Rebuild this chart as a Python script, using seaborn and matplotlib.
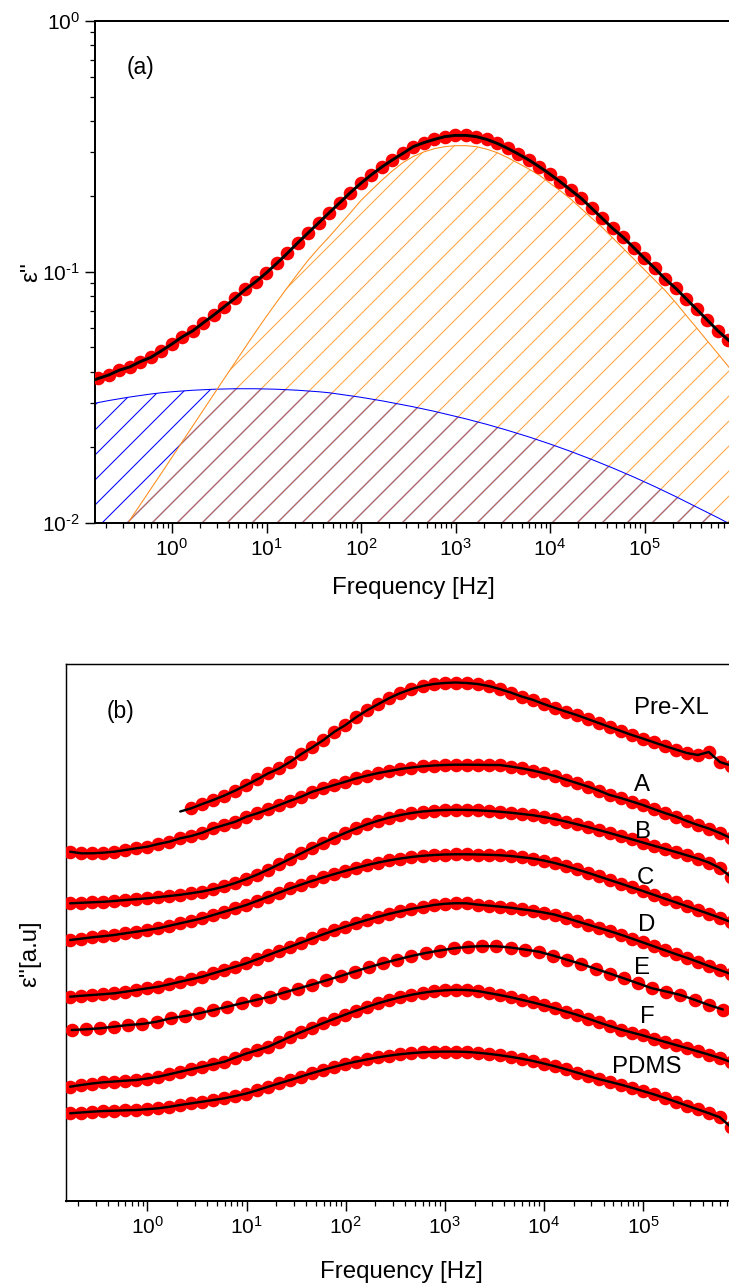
import numpy as np
import pandas as pd
import matplotlib
matplotlib.use("Agg")
import matplotlib.pyplot as plt
import matplotlib.ticker as mticker
import seaborn as sns

# ---------------- data ----------------
# log10 of frequency [Hz] for the measured points (9 points / decade)
log_freq = [-0.780, -0.669, -0.558, -0.447, -0.336, -0.224, -0.113, -0.002, 0.109, 0.220,
            0.331, 0.442, 0.553, 0.664, 0.776, 0.887, 0.998, 1.109, 1.220, 1.331,
            1.442, 1.553, 1.664, 1.776, 1.887, 1.998, 2.109, 2.220, 2.331, 2.442,
            2.553, 2.664, 2.776, 2.887, 2.998, 3.109, 3.220, 3.331, 3.442, 3.553,
            3.664, 3.776, 3.887, 3.998, 4.109, 4.220, 4.331, 4.442, 4.553, 4.664,
            4.776, 4.887, 4.998, 5.109, 5.220, 5.331, 5.442, 5.553, 5.664, 5.776,
            5.887]

# panel (a): log10 eps'' (measured), and the two fitted relaxation components
a_total_log = [-1.425, -1.411, -1.392, -1.379, -1.358, -1.341, -1.315, -1.288, -1.259, -1.235,
               -1.203, -1.172, -1.139, -1.106, -1.070, -1.039, -1.004, -0.966, -0.926, -0.884,
               -0.844, -0.804, -0.764, -0.724, -0.684, -0.647, -0.613, -0.582, -0.554, -0.528,
               -0.501, -0.485, -0.472, -0.461, -0.456, -0.456, -0.461, -0.472, -0.488, -0.508,
               -0.530, -0.554, -0.581, -0.610, -0.641, -0.674, -0.707, -0.747, -0.787, -0.827,
               -0.863, -0.904, -0.946, -0.986, -1.029, -1.066, -1.108, -1.150, -1.192, -1.235,
               -1.272]
a_slow_log = [-1.521, -1.513, -1.506, -1.499, -1.493, -1.487, -1.482, -1.478, -1.475, -1.472,
              -1.470, -1.468, -1.467, -1.466, -1.466, -1.466, -1.467, -1.468, -1.470, -1.472,
              -1.475, -1.478, -1.482, -1.488, -1.494, -1.500, -1.507, -1.514, -1.522, -1.530,
              -1.538, -1.547, -1.556, -1.566, -1.576, -1.586, -1.597, -1.608, -1.620, -1.632,
              -1.645, -1.658, -1.672, -1.686, -1.701, -1.716, -1.732, -1.748, -1.765, -1.782,
              -1.800, -1.818, -1.837, -1.856, -1.876, -1.896, -1.917, -1.938, -1.959, -1.980,
              -2.002]
a_main_log = [-2.180, -2.115, -2.052, -1.990, -1.928, -1.865, -1.803, -1.740, -1.677, -1.614,
              -1.551, -1.488, -1.425, -1.363, -1.300, -1.238, -1.178, -1.120, -1.063, -1.007,
              -0.953, -0.905, -0.860, -0.812, -0.765, -0.716, -0.675, -0.635, -0.598, -0.565,
              -0.540, -0.522, -0.509, -0.501, -0.497, -0.497, -0.501, -0.511, -0.525, -0.545,
              -0.567, -0.590, -0.615, -0.646, -0.677, -0.710, -0.748, -0.786, -0.823, -0.865,
              -0.907, -0.949, -0.991, -1.033, -1.075, -1.123, -1.174, -1.224, -1.275, -1.326,
              -1.377]
# fit values at the axis edges (log f = -0.815 and 5.95)
a_edge_logf = [-0.815, 5.95]
a_total_edge = [-1.430, -1.293]
a_slow_edge = [-1.524, -2.014]
a_main_edge = [-2.200, -1.406]

# panel (b): eps'' in arbitrary (offset) units
samples = ["Pre-XL", "A", "B", "C", "D", "E", "F", "PDMS"]
# Pre-XL: starts at the 11th frequency (first value = fit start only)
prexl = [389.5, 392.7, 397.0, 401.0, 405.5, 410.5, 416.0, 421.7, 427.7, 432.7,
         439.3, 447.0, 453.7, 461.0, 469.3, 476.0, 484.0, 491.0, 497.0, 503.0,
         508.0, 512.0, 515.0, 517.0, 518.0, 518.5, 518.0, 517.0, 515.0, 512.0,
         508.5, 504.5, 501.2, 497.0, 493.2, 489.5, 486.0, 482.0, 478.0, 474.0,
         470.0, 466.0, 462.5, 458.7, 455.0, 451.5, 448.0, 446.0, 449.0, 439.0,
         435.5]
samp_a = [349.3, 347.7, 347.7, 348.3, 349.3, 351.0, 352.7, 354.3, 357.0, 359.3,
          362.7, 365.0, 368.3, 372.7, 376.0, 379.3, 384.3, 387.7, 391.7, 396.0,
          400.3, 404.3, 409.3, 412.7, 416.0, 419.3, 422.7, 425.5, 428.0, 430.0,
          432.0, 433.5, 434.7, 435.5, 436.0, 436.3, 436.3, 436.2, 436.0, 436.0,
          434.5, 432.7, 430.5, 428.0, 425.0, 421.5, 418.0, 414.5, 410.5, 406.0,
          403.0, 399.5, 396.0, 392.0, 388.0, 384.5, 380.0, 376.0, 372.5, 368.0,
          363.0]
samp_b = [297.7, 298.2, 298.7, 299.2, 300.0, 301.0, 301.8, 302.7, 303.8, 305.0,
          306.2, 307.8, 309.5, 311.8, 314.6, 318.0, 322.0, 326.5, 331.5, 336.8,
          342.3, 347.8, 353.2, 358.4, 363.4, 368.2, 372.7, 376.8, 380.4, 383.5,
          386.0, 388.0, 389.5, 390.5, 391.0, 391.2, 391.1, 390.7, 390.1, 389.3,
          388.3, 387.1, 385.8, 384.1, 382.0, 379.5, 376.8, 374.0, 371.0, 368.0,
          364.8, 361.7, 358.5, 355.3, 352.2, 349.0, 345.7, 342.4, 338.5, 333.0,
          324.0]
samp_c = [261.0, 262.3, 263.7, 264.8, 266.0, 267.7, 269.3, 271.0, 272.7, 275.2,
          277.7, 280.2, 282.7, 286.0, 289.3, 292.7, 296.0, 300.2, 304.3, 308.5,
          312.7, 316.5, 320.2, 323.7, 327.0, 330.2, 333.2, 336.0, 338.5, 340.7,
          342.5, 344.0, 345.2, 346.0, 346.5, 346.7, 346.7, 346.5, 346.2, 345.8,
          345.0, 343.8, 342.5, 340.5, 338.0, 335.0, 331.7, 328.3, 324.7, 321.0,
          317.4, 313.7, 310.0, 306.2, 302.4, 298.6, 294.8, 291.0, 287.2, 283.2,
          279.0]
samp_d = [204.3, 205.2, 206.0, 206.8, 207.7, 209.3, 211.0, 212.7, 214.3, 216.7,
          219.3, 221.8, 224.3, 227.7, 231.0, 234.3, 237.7, 241.8, 246.0, 250.2,
          254.3, 258.5, 262.7, 266.8, 270.7, 274.4, 277.9, 281.2, 284.3, 287.2,
          289.8, 292.1, 294.0, 296.0, 297.2, 297.8, 297.7, 296.4, 295.4, 294.4,
          293.3, 291.8, 290.3, 288.5, 286.4, 283.2, 279.8, 276.5, 273.2, 269.9,
          266.3, 262.5, 258.6, 254.7, 250.8, 246.9, 243.2, 239.2, 235.0, 231.0,
          227.0]
# sample E was measured with 7 points / decade
log_freq_e = [-0.765, -0.622, -0.479, -0.336, -0.194, -0.051, 0.092, 0.235, 0.378, 0.521,
              0.664, 0.806, 0.949, 1.092, 1.235, 1.378, 1.521, 1.664, 1.806, 1.949,
              2.092, 2.235, 2.378, 2.521, 2.664, 2.806, 2.949, 3.092, 3.235, 3.378,
              3.521, 3.664, 3.806, 3.949, 4.092, 4.235, 4.378, 4.521, 4.664, 4.806,
              4.949, 5.092, 5.235, 5.378, 5.521, 5.664, 5.806]
samp_e = [171.0, 171.7, 172.7, 174.3, 176.0, 177.0, 179.3, 182.7, 185.0, 187.7,
          191.0, 194.3, 197.7, 201.0, 204.3, 208.5, 212.5, 216.5, 220.7, 225.0,
          229.5, 233.8, 237.8, 241.5, 245.0, 248.0, 250.5, 252.7, 254.2, 254.9,
          254.7, 253.5, 251.5, 249.3, 245.5, 241.2, 237.0, 232.2, 227.5, 222.7,
          217.7, 212.7, 209.5, 206.0, 201.2, 196.0, 191.5]
samp_f = [114.3, 116.0, 117.5, 118.7, 119.5, 120.3, 121.0, 122.5, 124.3, 126.7,
          129.3, 131.8, 134.3, 136.8, 139.3, 143.5, 147.5, 150.8, 154.3, 159.3,
          164.3, 169.0, 173.5, 178.0, 182.3, 186.5, 190.5, 194.3, 197.8, 201.0,
          203.8, 206.2, 208.2, 209.7, 210.7, 211.2, 211.0, 210.0, 208.0, 206.0,
          203.8, 201.2, 198.6, 195.8, 192.8, 189.5, 186.3, 182.5, 178.7, 175.0,
          171.5, 168.5, 165.6, 162.4, 159.2, 156.0, 152.9, 149.6, 146.4, 143.0,
          139.0]
samp_pdms = [87.7, 88.5, 89.3, 90.0, 90.3, 90.7, 91.0, 91.8, 92.7, 94.2,
             96.0, 97.7, 99.3, 101.0, 102.7, 105.0, 107.5, 110.8, 114.3, 117.7,
             121.0, 124.5, 128.0, 131.2, 134.2, 137.0, 139.5, 141.7, 143.7, 145.4,
             146.8, 147.9, 148.7, 149.2, 149.4, 149.4, 149.1, 148.3, 147.2, 145.8,
             144.2, 142.3, 140.1, 137.5, 134.8, 131.8, 128.5, 125.2, 122.0, 119.2,
             116.4, 113.3, 110.0, 106.7, 103.1, 99.3, 95.4, 91.6, 87.8, 83.7,
             74.0]

# label anchor positions for panel (b): (log10 f, a.u.)
label_pos = [(5.29, 492.7), (4.99, 416.0), (5.00, 369.3), (5.02, 322.7),
             (5.04, 276.0), (4.99, 232.7), (5.04, 184.3), (5.04, 134.3)]

# decade ticks shown on the frequency axis
freq_decades = [0, 1, 2, 3, 4, 5]
# decade ticks on the eps'' axis of panel (a)
eps_decades = [-2, -1, 0]

# ---------------- style ----------------
sns.set_style("ticks")
DPI = 75
plt.rcParams.update({
    "font.family": ["Liberation Sans", "DejaVu Sans"],
    "mathtext.fontset": "custom",
    "mathtext.rm": "Liberation Sans",
    "mathtext.it": "Liberation Sans:italic",
    "mathtext.bf": "Liberation Sans:bold",
    "mathtext.default": "regular",
    "axes.unicode_minus": False,
    "hatch.linewidth": 1.0,
    "axes.edgecolor": "black",
    "axes.linewidth": 1.9,
    "axes.labelcolor": "black",
    "text.color": "black",
    "xtick.color": "black",
    "ytick.color": "black",
    "xtick.labelcolor": "black",
    "ytick.labelcolor": "black",
})

RED = "#ff0000"
MS = 170          # marker area (pt^2)
TICK_FS = 20
LABEL_FS = 23


def dec_fmt(val, pos=None):
    e = int(round(np.log10(val)))
    if e < 0:
        return r"$10^{\text{-}%d}$" % (-e)
    return r"$10^{%d}$" % e


fig = plt.figure(figsize=(729 / DPI, 1285 / DPI), dpi=DPI)
fig.patch.set_facecolor("white")

# ---------------- panel (a) ----------------
axa = fig.add_axes([95 / 729, 1 - 522.7 / 1285, 1 - 95 / 729, (522.7 - 21) / 1285])
axa.set_xscale("log")
axa.set_yscale("log")

f = 10 ** np.array(log_freq)
f_fit = 10 ** np.array([a_edge_logf[0]] + log_freq + [a_edge_logf[1]])
tot_fit = 10 ** np.array([a_total_edge[0]] + a_total_log + [a_total_edge[1]])
slow_fit = 10 ** np.array([a_slow_edge[0]] + a_slow_log + [a_slow_edge[1]])
main_fit = 10 ** np.array([a_main_edge[0]] + a_main_log + [a_main_edge[1]])

axa.fill_between(f_fit, 1e-4, slow_fit, facecolor="none", edgecolor=(0, 0, 1, 1),
                 hatch="/", linewidth=0, zorder=1)
axa.fill_between(f_fit, 1e-4, main_fit, facecolor="none", edgecolor=(1.0, 0.55, 0.05, 0.78),
                 hatch="/", linewidth=0, zorder=1.5)
sns.lineplot(x=f_fit, y=slow_fit, color="#0000ff", linewidth=1.0, ax=axa,
             estimator=None, sort=False, legend=False, zorder=2)
sns.lineplot(x=f_fit, y=main_fit, color="#ff8c1a", linewidth=1.0, ax=axa,
             estimator=None, sort=False, legend=False, zorder=2)
sns.scatterplot(x=f, y=10 ** np.array(a_total_log), color=RED, s=MS, linewidth=0,
                ax=axa, legend=False, zorder=3)
sns.lineplot(x=f_fit, y=tot_fit, color="black", linewidth=2.8, ax=axa,
             estimator=None, sort=False, legend=False, zorder=4)

axa.set_xlim(10 ** -0.815, 10 ** 5.894)
axa.set_ylim(1e-2, 1.0)
axa.xaxis.set_major_locator(mticker.FixedLocator([10.0 ** d for d in freq_decades]))
axa.xaxis.set_minor_locator(mticker.LogLocator(base=10, subs=np.arange(2, 10), numticks=30))
axa.xaxis.set_major_formatter(mticker.FuncFormatter(dec_fmt))
axa.xaxis.set_minor_formatter(mticker.NullFormatter())
axa.yaxis.set_major_locator(mticker.FixedLocator([10.0 ** d for d in eps_decades]))
axa.yaxis.set_minor_locator(mticker.LogLocator(base=10, subs=np.arange(2, 10), numticks=30))
axa.yaxis.set_major_formatter(mticker.FuncFormatter(dec_fmt))
axa.yaxis.set_minor_formatter(mticker.NullFormatter())
axa.spines["right"].set_visible(False)
axa.tick_params(axis="both", which="major", direction="out", length=9.5, width=1.4,
                labelsize=TICK_FS, pad=5, colors="black")
axa.tick_params(axis="both", which="minor", direction="out", length=4.8, width=1.2,
                colors="black")
axa.set_xlabel("Frequency [Hz]", fontsize=LABEL_FS, color="black")
axa.xaxis.set_label_coords(0.502, -0.130)
axa.xaxis.label.set_va("center")
axa.set_ylabel("ε''", fontsize=LABEL_FS, color="black")
axa.yaxis.set_label_coords(-0.100, 0.50)
axa.yaxis.label.set_va("center")
axa.text(0.071, 0.908, "(a)", transform=axa.transAxes, fontsize=22,
         ha="center", va="center", color="black")

# ---------------- panel (b) ----------------
axb = fig.add_axes([65.5 / 729, 1 - 1201 / 1285, 1 - 65.5 / 729, (1201 - 664) / 1285])
axb.set_xscale("log")

series_b = [
    (log_freq[10:], prexl, 1),
    (log_freq, samp_a, 0),
    (log_freq, samp_b, 0),
    (log_freq, samp_c, 0),
    (log_freq, samp_d, 0),
    (log_freq_e, samp_e, 0),
    (log_freq, samp_f, 0),
    (log_freq, samp_pdms, 0),
]
for (lx, vals, skip), name, (tx, ty) in zip(series_b, samples, label_pos):
    xx = 10 ** np.array(lx)
    yy = np.array(vals)
    sns.scatterplot(x=xx[skip:], y=yy[skip:], color=RED, s=MS, linewidth=0,
                    ax=axb, legend=False, zorder=3)
    sns.lineplot(x=xx, y=yy, color="black", linewidth=2.3, ax=axb,
                 estimator=None, sort=False, legend=False, zorder=4)
    axb.text(10 ** tx, ty, name, fontsize=LABEL_FS, ha="center", va="center",
             zorder=5, color="black")

axb.set_xlim(10 ** -0.827, 10 ** 5.868)
axb.set_ylim(0, 537)
axb.set_yticks([])
axb.xaxis.set_major_locator(mticker.FixedLocator([10.0 ** d for d in freq_decades]))
axb.xaxis.set_minor_locator(mticker.LogLocator(base=10, subs=np.arange(2, 10), numticks=30))
axb.xaxis.set_major_formatter(mticker.FuncFormatter(dec_fmt))
axb.xaxis.set_minor_formatter(mticker.NullFormatter())
axb.spines["right"].set_visible(False)
axb.spines["left"].set_linewidth(1.4)
axb.spines["top"].set_linewidth(1.4)
axb.tick_params(axis="x", which="major", direction="out", length=9.5, width=1.4,
                labelsize=TICK_FS, pad=5, colors="black")
axb.tick_params(axis="x", which="minor", direction="out", length=4.8, width=1.2,
                colors="black")
axb.set_xlabel("Frequency [Hz]", fontsize=LABEL_FS, color="black")
axb.xaxis.set_label_coords(0.506, -0.132)
axb.xaxis.label.set_va("center")
axb.set_ylabel("ε''[a.u]", fontsize=LABEL_FS, color="black")
axb.yaxis.set_label_coords(-0.054, 0.46)
axb.yaxis.label.set_va("center")
axb.text(0.083, 0.911, "(b)", transform=axb.transAxes, fontsize=22,
         ha="center", va="center", color="black")

fig.savefig("out.png", dpi=DPI, facecolor="white")
